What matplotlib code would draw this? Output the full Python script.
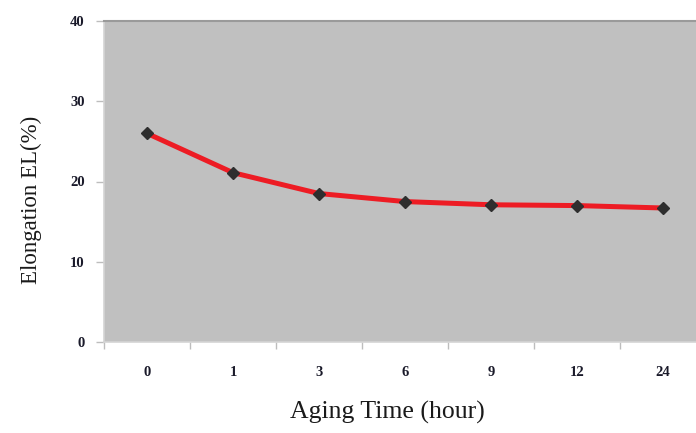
import matplotlib
matplotlib.use("Agg")
import matplotlib.pyplot as plt

# Elongation vs. aging time
aging_time = ["0", "1", "3", "6", "9", "12", "24"]
elongation = [26.0, 21.1, 18.5, 17.5, 17.1, 17.0, 16.7]
y_ticks = [0, 10, 20, 30, 40]

W, H = 696, 433
fig = plt.figure(figsize=(W / 100, H / 100), dpi=100)
fig.patch.set_facecolor("white")

# plot area: left 104 px, bottom at 342 px, 86 px per category
left, right, top, bottom = 104, 104 + 86 * len(aging_time), 21, 342
ax = fig.add_axes([left / W, (H - bottom) / H, (right - left) / W, (bottom - top) / H])
ax.set_facecolor("#c0c0c0")

x = list(range(len(aging_time)))
ax.plot(x, elongation, color="#ed1c24", lw=3.6, zorder=2, solid_capstyle="butt")
ax.plot(x, elongation, ls="none", marker="D", ms=6.2, color="#2e2e2e",
        mec="#2e2e2e", zorder=3)

ax.set_xlim(-0.5, len(aging_time) - 0.5)
ax.set_ylim(0, 40)
ax.set_yticks(y_ticks)
ax.set_xticks([i - 0.5 for i in range(len(aging_time) + 1)], minor=False)
ax.set_xticklabels([])
ax.set_xticks(x, minor=True)
ax.set_xticklabels(aging_time, minor=True)

serif = ["Liberation Serif", "DejaVu Serif"]
ax.tick_params(axis="x", which="major", length=5, width=1, color="#bdbdbd",
               direction="out")
ax.tick_params(axis="x", which="minor", length=0, pad=17, labelsize=10.5,
               labelcolor="#1a1a2a")
ax.tick_params(axis="y", length=6, width=1, color="#bdbdbd", direction="out",
               pad=8, labelsize=10.5, labelcolor="#1a1a2a")
for lab in ax.get_xticklabels(minor=True) + ax.get_yticklabels():
    lab.set_fontfamily(serif)
    lab.set_fontweight("bold")

for side in ("left", "bottom"):
    ax.spines[side].set_color("#d4d4d4")
    ax.spines[side].set_linewidth(1.2)
ax.spines["top"].set_color("#9a9a9a")
ax.spines["top"].set_linewidth(1.5)
ax.spines["right"].set_visible(False)

fig.text(387 / W, 1 - 412 / H, "Aging Time (hour)", ha="center", va="center",
         fontsize=18.5, family=serif, color="#1a1a1a")
fig.text(31 / W, 1 - 200 / H, "Elongation EL(%)", ha="center", va="center",
         rotation=90, fontsize=16.5, family=serif, color="#1a1a1a")

fig.savefig("out.png", dpi=100)
